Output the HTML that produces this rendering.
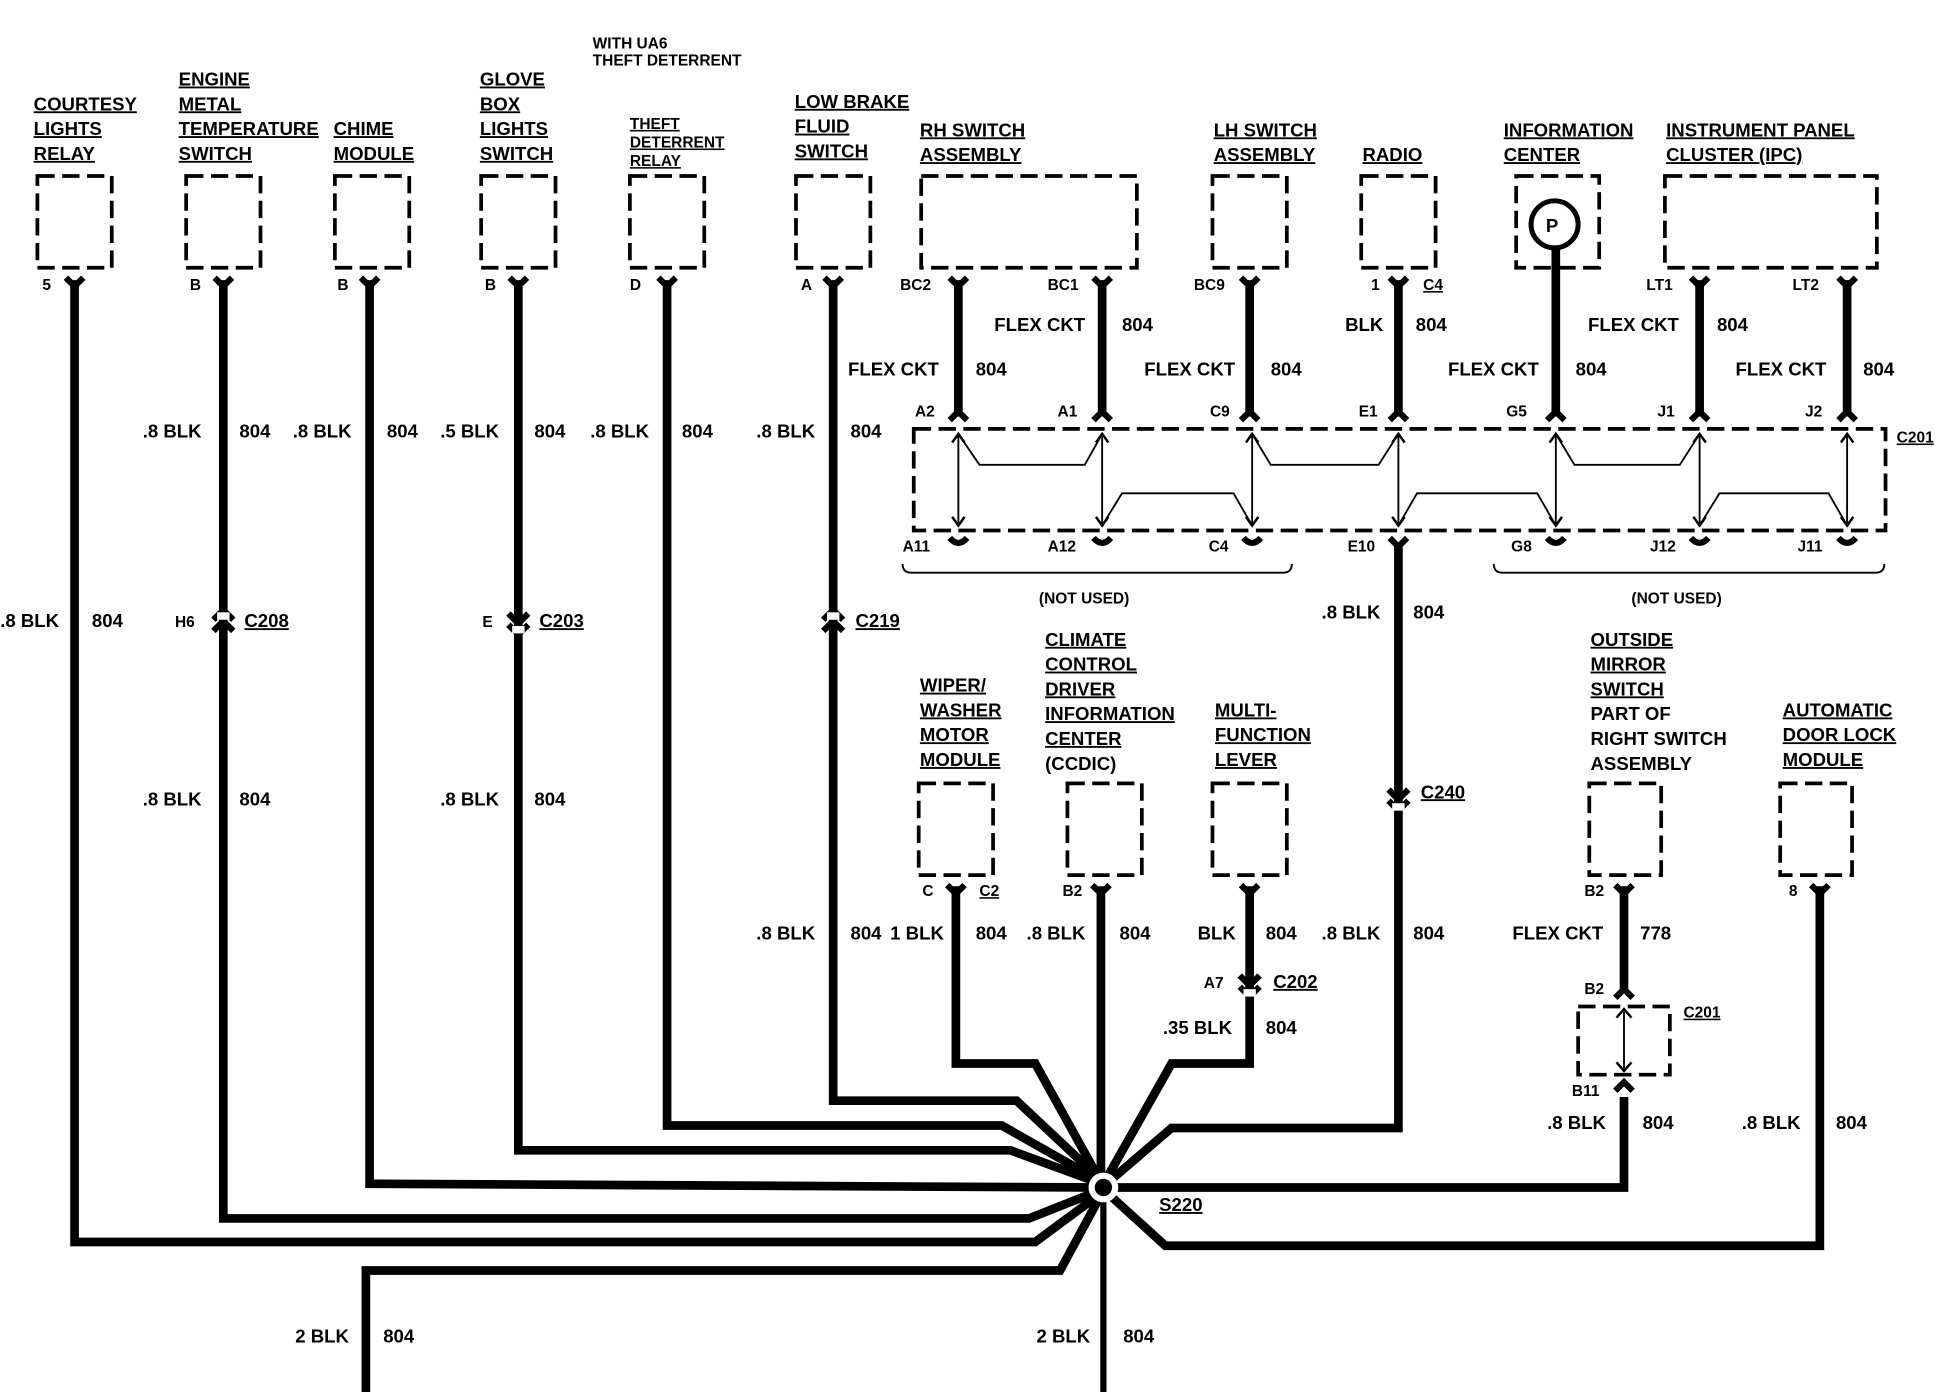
<!DOCTYPE html>
<html><head><meta charset="utf-8"><style>
html,body{margin:0;padding:0;background:#fff;}
svg{display:block;}
text{font-family:"Liberation Sans",sans-serif;font-weight:bold;font-size:15px;fill:#000;}
.u{text-decoration:underline;}
.s{font-size:12.5px;}
</style></head><body>
<svg width="1944" height="1392" viewBox="0 0 1568 1123" xmlns="http://www.w3.org/2000/svg">
<g fill="none" stroke="#000" stroke-width="3" stroke-dasharray="14,6">
<rect x="30" y="142" width="60" height="74"/>
<rect x="150" y="142" width="60" height="74"/>
<rect x="270" y="142" width="60" height="74"/>
<rect x="388" y="142" width="60" height="74"/>
<rect x="508" y="142" width="60" height="74"/>
<rect x="642" y="142" width="60" height="74"/>
<rect x="743" y="142" width="174" height="74"/>
<rect x="978" y="142" width="60" height="74"/>
<rect x="1098" y="142" width="60" height="74"/>
<rect x="1223" y="142" width="67" height="74"/>
<rect x="1343" y="142" width="171" height="74"/>
<rect x="737" y="346" width="784" height="82"/>
<rect x="741" y="632" width="60" height="74"/>
<rect x="861" y="632" width="60" height="74"/>
<rect x="978" y="632" width="60" height="74"/>
<rect x="1282" y="632" width="58" height="74"/>
<rect x="1436" y="632" width="58" height="74"/>
<rect x="1273" y="812" width="74" height="55"/>
</g>
<circle cx="1254" cy="181" r="19" fill="none" stroke="#000" stroke-width="4"/>
<text x="1247" y="187">P</text>
<g fill="none" stroke="#000" stroke-width="7" stroke-linejoin="miter">
<polyline points="60,226 60,1002 835,1002 885,965"/>
<polyline points="180,226 180,983 830,983 883,962"/>
<polyline points="298,226 298,955 885,958"/>
<polyline points="418,226 418,928 815,928 883,953"/>
<polyline points="538,226 538,908 808,908 884,951"/>
<polyline points="672,226 672,888 820,888 886,950"/>
<polyline points="771,715 771,858 835,858 886,950"/>
<polyline points="888,715 888,958"/>
<polyline points="1008,715 1008,858 945,858 893,950"/>
<polyline points="1128,438 1128,910 945,910 896,952"/>
<polyline points="1310,885 1310,958 890,958"/>
<polyline points="1468,715 1468,1005 940,1005 896,965"/>
<polyline points="295,1123 295,1025 855,1025 887,966"/>
<line x1="773" y1="226" x2="773" y2="336"/>
<line x1="889" y1="226" x2="889" y2="336"/>
<line x1="1008" y1="226" x2="1008" y2="336"/>
<line x1="1128" y1="226" x2="1128" y2="336"/>
<line x1="1255" y1="200" x2="1255" y2="336"/>
<line x1="1371" y1="226" x2="1371" y2="336"/>
<line x1="1490" y1="226" x2="1490" y2="336"/>
<line x1="1310" y1="715" x2="1310" y2="800"/>
</g>
<line x1="890" y1="958" x2="890" y2="1123" stroke="#000" stroke-width="5"/>
<g fill="none" stroke="#000" stroke-width="5">
<path d="M53,224 L60,231 L67,224"/><path d="M173,224 L180,231 L187,224"/><path d="M291,224 L298,231 L305,224"/>
<path d="M411,224 L418,231 L425,224"/><path d="M531,224 L538,231 L545,224"/><path d="M665,224 L672,231 L679,224"/>
<path d="M766,224 L773,231 L780,224"/><path d="M882,224 L889,231 L896,224"/><path d="M1001,224 L1008,231 L1015,224"/>
<path d="M1121,224 L1128,231 L1135,224"/><path d="M1364,224 L1371,231 L1378,224"/><path d="M1483,224 L1490,231 L1497,224"/>
<path d="M764,714 L771,721 L778,714"/><path d="M881,714 L888,721 L895,714"/><path d="M1001,714 L1008,721 L1015,714"/>
<path d="M1303,714 L1310,721 L1317,714"/><path d="M1461,714 L1468,721 L1475,714"/>
<path d="M1303,880 L1310,873 L1317,880"/>
<path d="M766,339 L773,332 L780,339"/><path d="M882,339 L889,332 L896,339"/><path d="M1001,339 L1008,332 L1015,339"/>
<path d="M1121,339 L1128,332 L1135,339"/><path d="M1248,339 L1255,332 L1262,339"/><path d="M1364,339 L1371,332 L1378,339"/>
<path d="M1483,339 L1490,332 L1497,339"/><path d="M1303,805 L1310,798 L1317,805"/>
<path d="M766,434 Q773,442 780,434"/><path d="M882,434 Q889,442 896,434"/><path d="M1003,434 Q1010,442 1017,434"/>
<path d="M1121,434 L1128,441 L1135,434"/><path d="M1248,434 Q1255,442 1262,434"/><path d="M1364,434 Q1371,442 1378,434"/><path d="M1483,434 Q1490,442 1497,434"/>
<path d="M172,500 L180,492 L188,500"/><path d="M172,509 L180,501 L188,509"/>
<path d="M664,500 L672,492 L680,500"/><path d="M664,509 L672,501 L680,509"/>
<path d="M410,495 L418,503 L426,495"/><path d="M410,504 L418,512 L426,504"/>
<path d="M1120,637 L1128,645 L1136,637"/><path d="M1120,646 L1128,654 L1136,646"/>
<path d="M1000,787 L1008,795 L1016,787"/><path d="M1000,796 L1008,804 L1016,796"/>
</g>
<g fill="#fff"><rect x="175" y="494" width="10" height="6"/><rect x="667" y="494" width="10" height="6"/><rect x="413" y="505" width="10" height="6"/><rect x="1123" y="648" width="10" height="6"/><rect x="1003" y="798" width="10" height="6"/></g>
<g fill="none" stroke="#000" stroke-width="1.5">
<line x1="773" y1="350" x2="773" y2="424"/><line x1="889" y1="350" x2="889" y2="424"/><line x1="1010" y1="350" x2="1010" y2="424"/>
<line x1="1128" y1="350" x2="1128" y2="424"/><line x1="1255" y1="350" x2="1255" y2="424"/><line x1="1371" y1="350" x2="1371" y2="424"/><line x1="1490" y1="350" x2="1490" y2="424"/>
<line x1="1310" y1="814" x2="1310" y2="864"/>
<polyline points="773,350 790,375 875,375 889,350"/>
<polyline points="889,424 905,398 995,398 1010,424"/>
<polyline points="1010,350 1025,375 1112,375 1128,350"/>
<polyline points="1128,424 1143,398 1240,398 1255,424"/>
<polyline points="1255,350 1270,375 1355,375 1371,350"/>
<polyline points="1371,424 1387,398 1475,398 1490,424"/>
<path d="M728,455 Q728,462 735,462 L1035,462 Q1042,462 1042,455"/>
<path d="M1205,455 Q1205,462 1212,462 L1513,462 Q1520,462 1520,455"/>
</g>
<g fill="none" stroke="#000" stroke-width="2">
<path d="M768,357 L773,350 L778,357"/><path d="M768,417 L773,424 L778,417"/><path d="M884,357 L889,350 L894,357"/><path d="M884,417 L889,424 L894,417"/>
<path d="M1005,357 L1010,350 L1015,357"/><path d="M1005,417 L1010,424 L1015,417"/><path d="M1123,357 L1128,350 L1133,357"/><path d="M1123,417 L1128,424 L1133,417"/>
<path d="M1250,357 L1255,350 L1260,357"/><path d="M1250,417 L1255,424 L1260,417"/><path d="M1366,357 L1371,350 L1376,357"/><path d="M1366,417 L1371,424 L1376,417"/>
<path d="M1485,357 L1490,350 L1495,357"/><path d="M1485,417 L1490,424 L1495,417"/>
<path d="M1304,821 L1310,814 L1316,821"/><path d="M1304,857 L1310,864 L1316,857"/>
</g>
<circle cx="890" cy="958" r="12" fill="#fff"/>
<circle cx="890" cy="958" r="7" fill="#000"/>
<text x="27" y="89" class="u">COURTESY</text><text x="27" y="109" class="u">LIGHTS</text><text x="27" y="129" class="u">RELAY</text>
<text x="144" y="69" class="u">ENGINE</text><text x="144" y="89" class="u">METAL</text><text x="144" y="109" class="u">TEMPERATURE</text><text x="144" y="129" class="u">SWITCH</text>
<text x="269" y="109" class="u">CHIME</text><text x="269" y="129" class="u">MODULE</text>
<text x="387" y="69" class="u">GLOVE</text><text x="387" y="89" class="u">BOX</text><text x="387" y="109" class="u">LIGHTS</text><text x="387" y="129" class="u">SWITCH</text>
<text x="478" y="39" class="s">WITH UA6</text><text x="478" y="53" class="s">THEFT DETERRENT</text>
<text x="508" y="104" class="u s">THEFT</text><text x="508" y="119" class="u s">DETERRENT</text><text x="508" y="134" class="u s">RELAY</text>
<text x="641" y="87" class="u">LOW BRAKE</text><text x="641" y="107" class="u">FLUID</text><text x="641" y="127" class="u">SWITCH</text>
<text x="742" y="110" class="u">RH SWITCH</text><text x="742" y="130" class="u">ASSEMBLY</text>
<text x="979" y="110" class="u">LH SWITCH</text><text x="979" y="130" class="u">ASSEMBLY</text>
<text x="1099" y="130" class="u">RADIO</text>
<text x="1213" y="110" class="u">INFORMATION</text><text x="1213" y="130" class="u">CENTER</text>
<text x="1344" y="110" class="u">INSTRUMENT PANEL</text><text x="1344" y="130" class="u">CLUSTER (IPC)</text>
<text x="34" y="234" class="s">5</text><text x="153" y="234" class="s">B</text><text x="272" y="234" class="s">B</text><text x="391" y="234" class="s">B</text><text x="508" y="234" class="s">D</text><text x="646" y="234" class="s">A</text>
<text x="726" y="234" class="s">BC2</text><text x="845" y="234" class="s">BC1</text><text x="963" y="234" class="s">BC9</text><text x="1106" y="234" class="s">1</text><text x="1148" y="234" class="u s">C4</text>
<text x="1328" y="234" class="s">LT1</text><text x="1446" y="234" class="s">LT2</text>
<text x="802" y="267">FLEX CKT</text><text x="905" y="267">804</text>
<text x="684" y="303">FLEX CKT</text><text x="787" y="303">804</text>
<text x="923" y="303">FLEX CKT</text><text x="1025" y="303">804</text>
<text x="1085" y="267">BLK</text><text x="1142" y="267">804</text>
<text x="1168" y="303">FLEX CKT</text><text x="1271" y="303">804</text>
<text x="1281" y="267">FLEX CKT</text><text x="1385" y="267">804</text>
<text x="1400" y="303">FLEX CKT</text><text x="1503" y="303">804</text>
<text x="738" y="336" class="s">A2</text><text x="853" y="336" class="s">A1</text><text x="976" y="336" class="s">C9</text><text x="1096" y="336" class="s">E1</text><text x="1215" y="336" class="s">G5</text><text x="1337" y="336" class="s">J1</text><text x="1456" y="336" class="s">J2</text>
<text x="1530" y="357" class="u s">C201</text>
<text x="728" y="445" class="s">A11</text><text x="845" y="445" class="s">A12</text><text x="975" y="445" class="s">C4</text><text x="1087" y="445" class="s">E10</text><text x="1219" y="445" class="s">G8</text><text x="1331" y="445" class="s">J12</text><text x="1450" y="445" class="s">J11</text>
<text x="838" y="487" class="s">(NOT USED)</text><text x="1316" y="487" class="s">(NOT USED)</text>
<text x="115" y="353">.8 BLK</text><text x="193" y="353">804</text>
<text x="236" y="353">.8 BLK</text><text x="312" y="353">804</text>
<text x="355" y="353">.5 BLK</text><text x="431" y="353">804</text>
<text x="476" y="353">.8 BLK</text><text x="550" y="353">804</text>
<text x="610" y="353">.8 BLK</text><text x="686" y="353">804</text>
<text x="0" y="506">.8 BLK</text><text x="74" y="506">804</text>
<text x="141" y="506" class="s">H6</text><text x="197" y="506" class="u">C208</text>
<text x="389" y="506" class="s">E</text><text x="435" y="506" class="u">C203</text>
<text x="690" y="506" class="u">C219</text>
<text x="1066" y="499">.8 BLK</text><text x="1140" y="499">804</text>
<text x="1146" y="644" class="u">C240</text>
<text x="115" y="650">.8 BLK</text><text x="193" y="650">804</text>
<text x="355" y="650">.8 BLK</text><text x="431" y="650">804</text>
<text x="742" y="558" class="u">WIPER/</text><text x="742" y="578" class="u">WASHER</text><text x="742" y="598" class="u">MOTOR</text><text x="742" y="618" class="u">MODULE</text>
<text x="843" y="521" class="u">CLIMATE</text><text x="843" y="541" class="u">CONTROL</text><text x="843" y="561" class="u">DRIVER</text><text x="843" y="581" class="u">INFORMATION</text><text x="843" y="601" class="u">CENTER</text><text x="843" y="621">(CCDIC)</text>
<text x="980" y="578" class="u">MULTI-</text><text x="980" y="598" class="u">FUNCTION</text><text x="980" y="618" class="u">LEVER</text>
<text x="1283" y="521" class="u">OUTSIDE</text><text x="1283" y="541" class="u">MIRROR</text><text x="1283" y="561" class="u">SWITCH</text><text x="1283" y="581">PART OF</text><text x="1283" y="601">RIGHT SWITCH</text><text x="1283" y="621">ASSEMBLY</text>
<text x="1438" y="578" class="u">AUTOMATIC</text><text x="1438" y="598" class="u">DOOR LOCK</text><text x="1438" y="618" class="u">MODULE</text>
<text x="744" y="723" class="s">C</text><text x="790" y="723" class="u s">C2</text><text x="857" y="723" class="s">B2</text><text x="1278" y="723" class="s">B2</text><text x="1443" y="723" class="s">8</text>
<text x="610" y="758">.8 BLK</text><text x="686" y="758">804</text><text x="718" y="758">1 BLK</text><text x="787" y="758">804</text>
<text x="828" y="758">.8 BLK</text><text x="903" y="758">804</text>
<text x="966" y="758">BLK</text><text x="1021" y="758">804</text>
<text x="1066" y="758">.8 BLK</text><text x="1140" y="758">804</text>
<text x="1220" y="758">FLEX CKT</text><text x="1323" y="758">778</text>
<text x="971" y="797" class="s">A7</text><text x="1027" y="797" class="u">C202</text>
<text x="1278" y="802" class="s">B2</text><text x="1358" y="821" class="u s">C201</text>
<text x="938" y="834">.35 BLK</text><text x="1021" y="834">804</text>
<text x="1268" y="884" class="s">B11</text>
<text x="1248" y="911">.8 BLK</text><text x="1325" y="911">804</text>
<text x="1405" y="911">.8 BLK</text><text x="1481" y="911">804</text>
<text x="935" y="977" class="u">S220</text>
<text x="238" y="1083">2 BLK</text><text x="309" y="1083">804</text>
<text x="836" y="1083">2 BLK</text><text x="906" y="1083">804</text>
</svg>
</body></html>
